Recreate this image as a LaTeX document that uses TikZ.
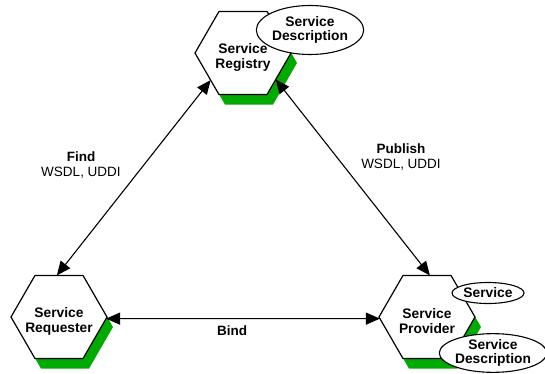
\documentclass[tikz,border=0pt]{standalone}
\usepackage{fontspec}
\setmainfont{Liberation Sans}
\usetikzlibrary{shapes.geometric,arrows.meta,shadows}
\definecolor{shadegreen}{RGB}{0,170,0}
\begin{document}
\begin{tikzpicture}[x=1pt,y=-1pt,
  hexnode/.style={regular polygon,regular polygon sides=6,minimum size=96pt,
    inner sep=0pt,outer sep=0pt,draw,line width=1.2pt,fill=white,
    drop shadow={shadow xshift=6pt,shadow yshift=-10pt,fill=shadegreen,opacity=1},
    label={[yshift=-4pt,align=center,font=\fontsize{13.8}{15}\selectfont\bfseries]center:#1}},
  bubble/.style={ellipse,draw,line width=1.1pt,fill=white,inner sep=0pt,align=center,
    font=\fontsize{13.8}{14.5}\selectfont\bfseries},
  link/.style={{Triangle[length=14pt,width=12pt]}-{Triangle[length=14pt,width=12pt]},line width=1.1pt},
  lbl/.style={align=center,font=\fontsize{13.5}{15.5}\selectfont}]
\useasboundingbox (0,0) rectangle (545,374);

% the three roles
\node[hexnode={Service\\Registry}]  (reg)  at (243,53)  {};
\node[hexnode={Service\\Requester}] (req)  at (59,317)  {};
\node[hexnode={Service\\Provider}]  (prov) at (427,317) {};

% descriptions attached to the roles
\node[bubble,minimum width=102pt,minimum height=49pt] (regdesc) at (310,30) {Service\\Description};
\node[bubble,minimum width=72pt,minimum height=21pt] (svc) at (488,293) {Service};
\node[bubble,minimum width=102pt,minimum height=38pt] (provdesc) at (493,353) {Service\\Description};

% interactions
\draw[link] (reg.220) -- (req.93);
\draw[link] (reg.321) -- (prov.86);
\draw[link] (req.-2) -- (prov.182);

\node[lbl] (find) at (81,165) {\textbf{Find}\\WSDL, UDDI};
\node[lbl] (pub)  at (401,157) {\textbf{Publish}\\WSDL, UDDI};
\node[lbl,font=\fontsize{13.5}{15.5}\selectfont\bfseries] (bind) at (232,331) {Bind};
\end{tikzpicture}
\end{document}
